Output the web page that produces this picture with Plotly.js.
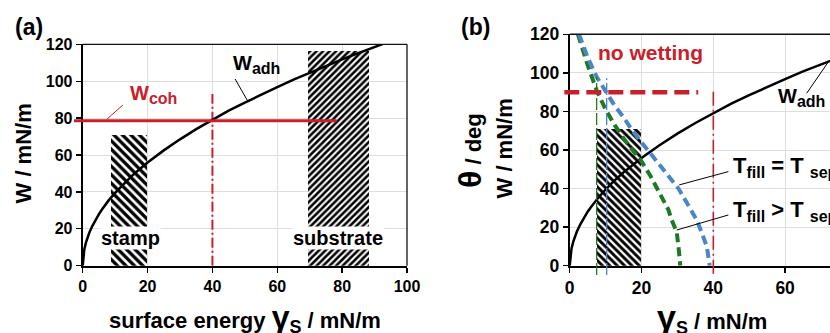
<!DOCTYPE html>
<html><head><meta charset="utf-8">
<script src="https://cdn.plot.ly/plotly-3.0.1.min.js"></script>
<style>html,body{margin:0;padding:0;background:#fff;}#c{width:830px;height:333px;}</style>
</head><body><div id="c"></div>
<script>
// ---- data ----
const gammaS = [0, 0.2, 0.5, 1, 1.5, 2, 3, 4, 5, 6, 8, 10, 12, 15, 18, 20, 25, 30, 35, 40, 45, 50, 55, 60, 65, 70, 75, 80, 85, 90, 95];
const Wadh   = [0, 5.6, 8.8, 12.5, 15.3, 17.7, 21.6, 25, 28, 30.6, 35.4, 39.5, 43.3, 48.4, 53, 55.9, 62.5, 68.5, 74, 79, 84, 88.4, 92.7, 96.8, 100.8, 104.6, 108.3, 111.8, 115.2, 118.6, 121.8];
const WcohX = [-2.7, 78.3];
const WcohY = [78.6, 78.6];
const splitAX = [40, 40];
const splitAY = [0, 93];
const stampAX = [8.7, 19.7];
const stampATop = [70.8];
const substrateX = [69.6, 88.3];
const substrateTop = [116.4];
// panel b
const greenX = [2.3, 5, 7.5, 10, 12.5, 15, 17.5, 19.7, 22.5, 25.2, 27.5, 28.4, 29.8, 30.4, 30.8];
const greenY = [120, 104, 91, 81, 73, 66, 60, 55, 46.5, 37.5, 29, 23.7, 17.6, 8, 0];
const blueX  = [2.6, 5, 7.5, 10.3, 12.5, 15, 17.3, 20, 22.4, 25, 27.5, 30.3, 32.5, 35.4, 37, 38.2, 39];
const blueY  = [120, 108, 98, 89.5, 83, 77, 70.5, 64, 58.3, 52, 46, 40, 33, 23.7, 16, 9.9, 0];
const noWetX = [-1.5, 35.8];
const noWetY = [90, 90];
const greenVX = [7.5, 7.5];
const greenVY = [-4.8, 98];
const blueVX = [10.3, 10.3];
const blueVY = [-4.8, 97.2];
const redVX = [40, 40];
const redVY = [-4.2, 92];
const stampBX = [7.7, 19.8];
const stampBTop = [70.7];

// ---- layout geometry ----
const W = 830, H = 333;
const RED = '#c8202a', GREEN = '#1e7a22', BLUE = '#4a86c6';
const FONT = 'Liberation Sans, Arial, sans-serif';
const domA = {x: [82.7 / W, 407 / W], y: [(H - 265.7) / H, (H - 44.3) / H]};
const domB = {x: [569.7 / W, 1], y: [(H - 265.7) / H, (H - 34.3) / H]};
const rangeA = {x: [0, 100], y: [0, 120]};
const rangeB = {x: [0, 72.5], y: [0, 120]};

// extended (invisible) axes so that some lines may cross the frame like in the reference
function extAxis(dom, rng, padPx, totalPx) {
  const domPx = (dom[1] - dom[0]) * totalPx;
  const unitsPerPx = (rng[1] - rng[0]) / domPx;
  return {domain: [dom[0] - padPx / totalPx, dom[1]], range: [rng[0] - padPx * unitsPerPx, rng[1]]};
}
const xA3 = extAxis(domA.x, rangeA.x, 15, W);
const xB4 = extAxis(domB.x, rangeB.x, 10, W);
const yB4 = extAxis(domB.y, rangeB.y, 15, H);

function mid(a) { return (a[0] + a[1]) / 2; }
function wid(a) { return a[1] - a[0]; }
function hatchBar(xs, top, xa, ya, shape, size, sol) {
  return {type: 'bar', x: [mid(xs)], y: top, width: [wid(xs)], xaxis: xa, yaxis: ya,
    marker: {color: 'white', line: {width: 0},
      pattern: {shape: shape, fgcolor: '#000', bgcolor: 'white', fgopacity: 1, size: size, solidity: sol, fillmode: 'overlay'}},
    hoverinfo: 'skip', showlegend: false};
}
function line(x, y, xa, ya, color, width, dash) {
  return {type: 'scatter', mode: 'lines', x: x, y: y, xaxis: xa, yaxis: ya,
    line: {color: color, width: width, dash: dash || 'solid'}, hoverinfo: 'skip', showlegend: false};
}

const traces = [
  hatchBar(stampAX, stampATop, 'x', 'y', '\\', 6, 0.55),
  hatchBar(substrateX, substrateTop, 'x', 'y', '/', 4.6, 0.55),
  hatchBar(stampBX, stampBTop, 'x2', 'y2', '\\', 5.2, 0.55),
  line(splitAX, splitAY, 'x', 'y', RED, 2, '10px,3px,2px,3px'),
  line(WcohX, WcohY, 'x3', 'y3', RED, 3),
  line(gammaS, Wadh, 'x', 'y', '#000', 2.5),
  // panel b
  line(redVX, redVY, 'x4', 'y4', RED, 1.6, '14px,4px,2px,4px'),
  line(greenVX, greenVY, 'x4', 'y4', GREEN, 1.3, '12px,3px'),
  line(blueVX, blueVY, 'x4', 'y4', BLUE, 1.3, '12px,3px'),
  line(noWetX, noWetY, 'x4', 'y4', RED, 4.5, '15px,7px'),
  line(gammaS, Wadh, 'x2', 'y2', '#000', 2.5),
  line(greenX, greenY, 'x2', 'y2', GREEN, 4, '9px,5px'),
  line(blueX, blueY, 'x2', 'y2', BLUE, 4, '9px,5px')
];

const tickFontA = {family: FONT, size: 16, color: '#000', weight: 'bold'};
const tickFontB = {family: FONT, size: 17.5, color: '#000', weight: 'bold'};
function axis(dom, rng, tf, extra) {
  return Object.assign({domain: dom, range: rng, dtick: 20, tick0: 0, showgrid: true, gridcolor: '#dedede', gridwidth: 1,
    zeroline: false, showline: true, linecolor: '#000', linewidth: 2, ticks: 'outside', ticklen: 5, tickwidth: 1.3,
    tickcolor: '#000', tickfont: tf, fixedrange: true}, extra || {});
}
function hidden(dom, rng, anchor) {
  return {domain: dom, range: rng, anchor: anchor, showgrid: false, zeroline: false, showline: false,
    showticklabels: false, ticks: '', fixedrange: true};
}

function P(xp, yp) { return {x: xp / W, y: 1 - yp / H, xref: 'paper', yref: 'paper'}; }
function ann(xp, yp, text, size, color, opts) {
  return Object.assign(P(xp, yp), {text: text, showarrow: false, xanchor: 'center', yanchor: 'middle',
    font: {family: FONT, size: size, color: color || '#000', weight: 'bold'}}, opts || {});
}

const annotations = [
  ann(29, 27, '(a)', 23),
  ann(475.5, 27, '(b)', 23),
  ann(231, 64, 'W<sub><span style="font-size:16px">adh</span></sub>', 20, '#000', {xanchor: 'left'}),
  ann(128, 94, 'W<sub><span style="font-size:16px">coh</span></sub>', 20, RED, {xanchor: 'left'}),
  ann(130.5, 238, 'stamp', 20, '#000', {bgcolor: 'white', borderpad: 0}),
  ann(338, 238, 'substrate', 20, '#000', {bgcolor: 'white', borderpad: 0}),
  ann(650.5, 52, 'no wetting', 21, RED),
  ann(731, 167, 'T<sub><span style="font-size:16px">fill</span></sub> = T <sub><span style="font-size:16px">sep</span></sub>', 22, '#000', {xanchor: 'left'}),
  ann(731, 211, 'T<sub><span style="font-size:16px">fill</span></sub> &gt; T <sub><span style="font-size:16px">sep</span></sub>', 22, '#000', {xanchor: 'left'}),
  ann(776, 97, 'W<sub><span style="font-size:16px">adh</span></sub>', 20, '#000', {xanchor: 'left'}),
  ann(22.5, 154, 'W / mN/m', 22, '#000', {textangle: -90}),
  ann(245, 318, 'surface energy <span style="font-size:32px">γ</span><sub><span style="font-size:18px">S</span></sub> / mN/m', 22),
  ann(712, 318, '<span style="font-size:34px">γ</span><sub><span style="font-size:18px">S</span></sub> / mN/m', 22),
  ann(470, 151, '<span style="font-size:32px">θ</span> / deg', 22, '#000', {textangle: -90}),
  ann(504, 148.5, 'W / mN/m', 22, '#000', {textangle: -90})
];

function seg(xref, yref, x0, y0, x1, y1, color, width) {
  return {type: 'line', xref: xref, yref: yref, x0: x0, y0: y0, x1: x1, y1: y1, line: {color: color, width: width}};
}
const shapes = [
  seg('x domain', 'y domain', 0, 1, 1, 1, '#111', 1.3),
  seg('x domain', 'y domain', 1, 0, 1, 1, '#111', 1.3),
  seg('x2 domain', 'y2 domain', 0, 1, 1, 1, '#111', 1.5),
  seg('x', 'y', 47, 101.2, 50.7, 89.8, '#000', 1),
  seg('x', 'y', 12.4, 87.1, 7.5, 79.5, RED, 1),
  seg('x2', 'y2', 66, 89.4, 72.3, 106.4, '#000', 1),
  seg('x2', 'y2', 30.5, 41.9, 44.2, 48.8, '#000', 1),
  seg('x2', 'y2', 29.8, 18.5, 44.2, 26.3, '#000', 1)
];

const layout = {
  width: W, height: H, margin: {l: 0, r: 0, t: 0, b: 0}, paper_bgcolor: 'white', plot_bgcolor: 'rgba(0,0,0,0)',
  showlegend: false, barmode: 'overlay', bargap: 0,
  font: {family: FONT, color: '#000'},
  xaxis: axis(domA.x, rangeA.x, tickFontA, {anchor: 'y'}),
  yaxis: axis(domA.y, rangeA.y, tickFontA, {anchor: 'x'}),
  xaxis2: axis(domB.x, rangeB.x, tickFontB, {anchor: 'y2'}),
  yaxis2: axis(domB.y, rangeB.y, tickFontB, {anchor: 'x2'}),
  xaxis3: hidden(xA3.domain, xA3.range, 'y3'),
  yaxis3: hidden(domA.y, rangeA.y, 'x3'),
  xaxis4: hidden(xB4.domain, xB4.range, 'y4'),
  yaxis4: hidden(yB4.domain, yB4.range, 'x4'),
  annotations: annotations,
  shapes: shapes
};

Plotly.newPlot('c', traces, layout, {staticPlot: true, displayModeBar: false});
</script>
</body></html>
